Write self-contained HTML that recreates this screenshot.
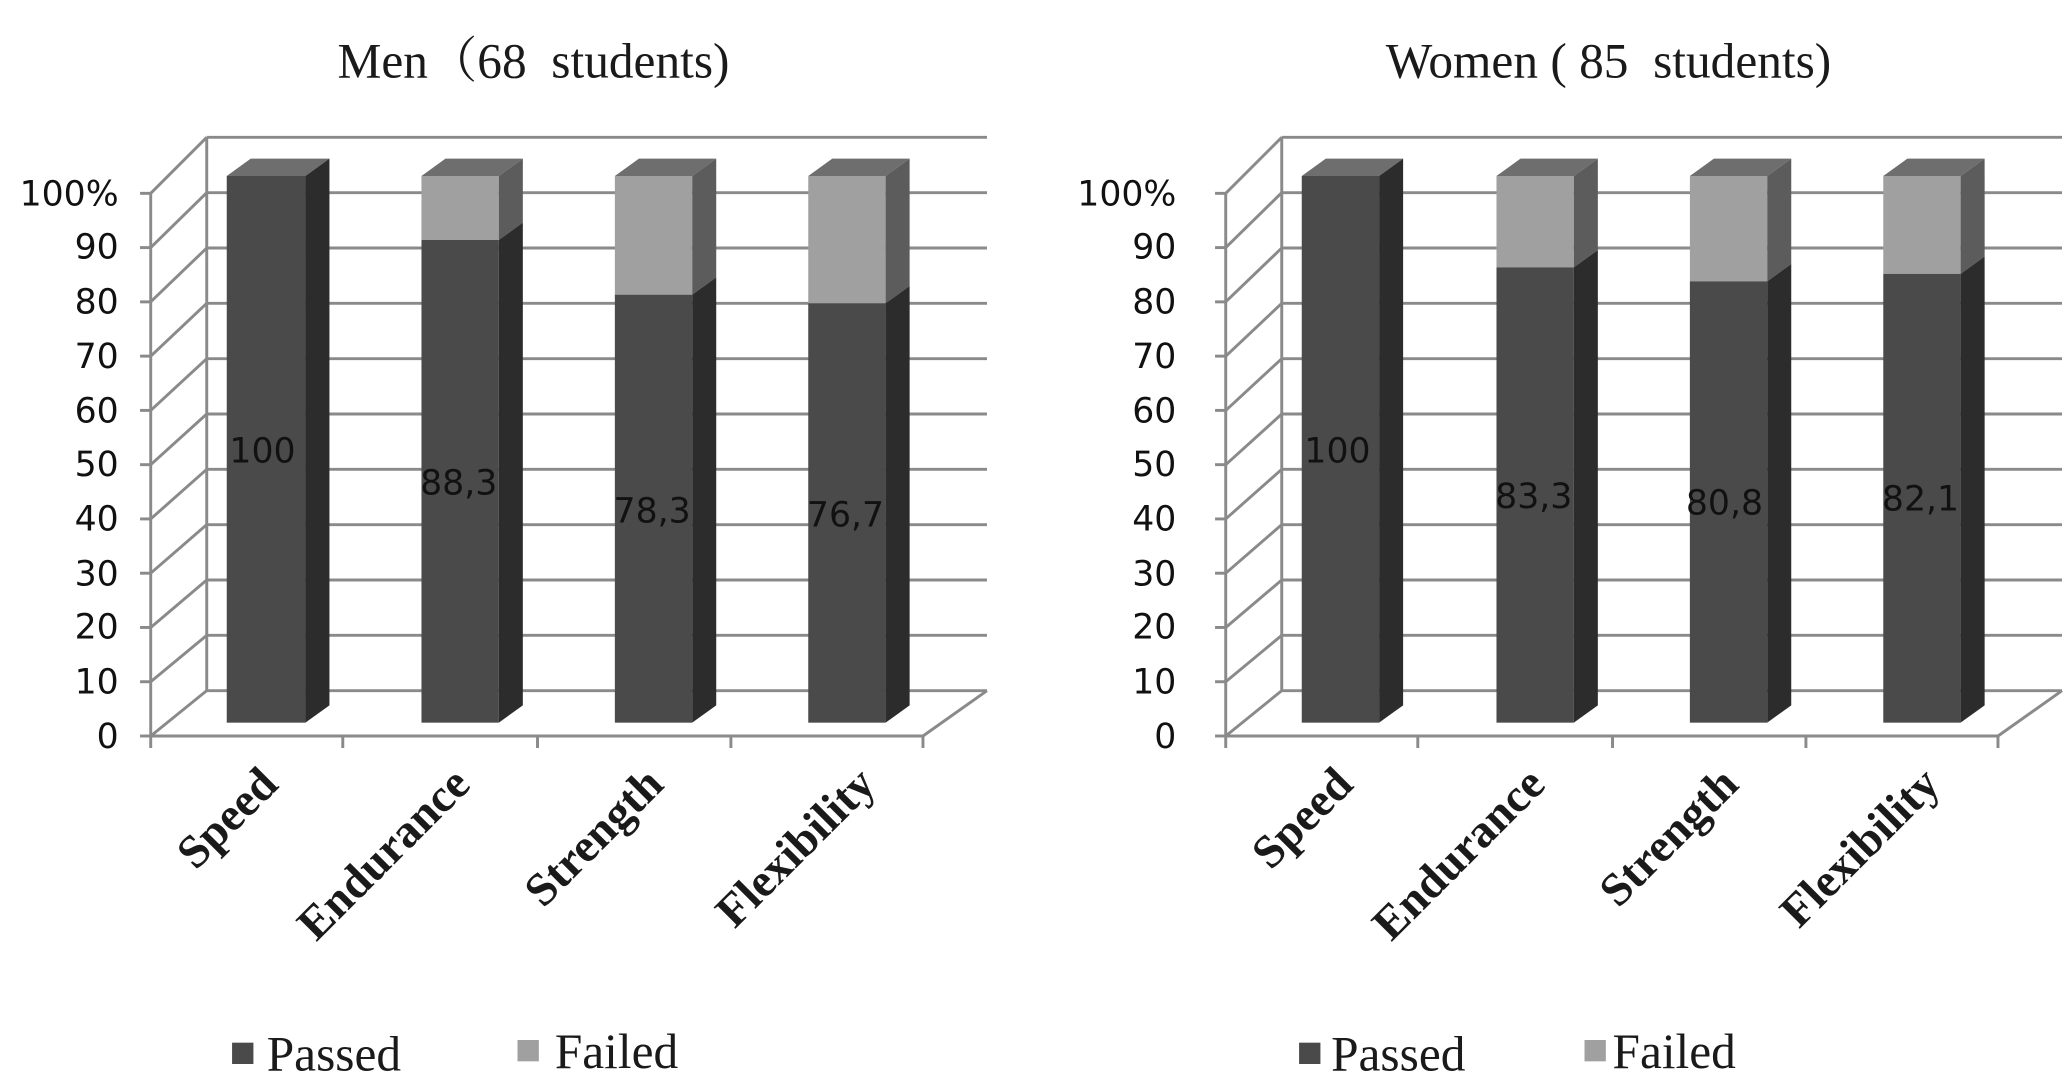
<!DOCTYPE html>
<html><head><meta charset="utf-8"><style>
html,body{margin:0;padding:0;background:#fff;width:2070px;height:1080px;overflow:hidden}
svg{display:block}
.t{font-family:"Liberation Serif","Noto Serif CJK SC",serif;fill:#1a1a1a}
.s{font-family:"DejaVu Sans","Liberation Sans",sans-serif;fill:#111}
</style></head><body>
<svg width="2070" height="1080" viewBox="0 0 1552 810" preserveAspectRatio="none" xmlns="http://www.w3.org/2000/svg">
<defs>
<g id="grid" stroke="#8a8a8a" stroke-width="2.2" fill="none">
<line x1="155" y1="103" x2="740" y2="103"/><line x1="155" y1="144.5" x2="740" y2="144.5"/><line x1="155" y1="186" x2="740" y2="186"/><line x1="155" y1="227.5" x2="740" y2="227.5"/><line x1="155" y1="269" x2="740" y2="269"/><line x1="155" y1="310.5" x2="740" y2="310.5"/><line x1="155" y1="352" x2="740" y2="352"/><line x1="155" y1="393.5" x2="740" y2="393.5"/><line x1="155" y1="435" x2="740" y2="435"/><line x1="155" y1="476.5" x2="740" y2="476.5"/><line x1="155" y1="518" x2="740" y2="518"/>
<line x1="113" y1="552" x2="155" y2="518"/><line x1="113" y1="511.3" x2="155" y2="476.5"/><line x1="113" y1="470.6" x2="155" y2="435"/><line x1="113" y1="429.9" x2="155" y2="393.5"/><line x1="113" y1="389.2" x2="155" y2="352"/><line x1="113" y1="348.5" x2="155" y2="310.5"/><line x1="113" y1="307.8" x2="155" y2="269"/><line x1="113" y1="267.1" x2="155" y2="227.5"/><line x1="113" y1="226.4" x2="155" y2="186"/><line x1="113" y1="185.7" x2="155" y2="144.5"/><line x1="113" y1="145" x2="155" y2="103"/>
<line x1="155" y1="103" x2="155" y2="518"/><line x1="113" y1="145" x2="113" y2="552"/>
<line x1="113" y1="552" x2="692" y2="552"/><line x1="692" y1="552" x2="740" y2="518"/>
<line x1="105" y1="552" x2="113" y2="552"/><line x1="105" y1="511.3" x2="113" y2="511.3"/><line x1="105" y1="470.6" x2="113" y2="470.6"/><line x1="105" y1="429.9" x2="113" y2="429.9"/><line x1="105" y1="389.2" x2="113" y2="389.2"/><line x1="105" y1="348.5" x2="113" y2="348.5"/><line x1="105" y1="307.8" x2="113" y2="307.8"/><line x1="105" y1="267.1" x2="113" y2="267.1"/><line x1="105" y1="226.4" x2="113" y2="226.4"/><line x1="105" y1="185.7" x2="113" y2="185.7"/><line x1="105" y1="145" x2="113" y2="145"/>
<line x1="113" y1="552" x2="113" y2="561"/><line x1="257" y1="552" x2="257" y2="561"/><line x1="403" y1="552" x2="403" y2="561"/><line x1="548" y1="552" x2="548" y2="561"/><line x1="692" y1="552" x2="692" y2="561"/>
</g>
</defs>

<!-- LEFT -->
<use href="#grid"/>
<g>
<polygon points="170,132 229,132 247,119 188,119" fill="#6e6e6e"/>
<rect x="170" y="132" width="59" height="410" fill="#4a4a4a"/>
<polygon points="229,132 247,119 247,529 229,542" fill="#2c2c2c"/>
<polygon points="316,132 374,132 392,119 334,119" fill="#6e6e6e"/>
<rect x="316" y="132" width="58" height="48" fill="#a0a0a0"/>
<rect x="316" y="180" width="58" height="362" fill="#4a4a4a"/>
<polygon points="374,132 392,119 392,167 374,180" fill="#5c5c5c"/>
<polygon points="374,180 392,167 392,529 374,542" fill="#2c2c2c"/>
<polygon points="461,132 519,132 537,119 479,119" fill="#6e6e6e"/>
<rect x="461" y="132" width="58" height="89" fill="#a0a0a0"/>
<rect x="461" y="221" width="58" height="321" fill="#4a4a4a"/>
<polygon points="519,132 537,119 537,208 519,221" fill="#5c5c5c"/>
<polygon points="519,221 537,208 537,529 519,542" fill="#2c2c2c"/>
<polygon points="606,132 664,132 682,119 624,119" fill="#6e6e6e"/>
<rect x="606" y="132" width="58" height="95.5" fill="#a0a0a0"/>
<rect x="606" y="227.5" width="58" height="314.5" fill="#4a4a4a"/>
<polygon points="664,132 682,119 682,214.5 664,227.5" fill="#5c5c5c"/>
<polygon points="664,227.5 682,214.5 682,529 664,542" fill="#2c2c2c"/>
</g>
<g class="s" font-size="26">
<text x="172" y="347">100</text>
<text x="315" y="371">88,3</text>
<text x="460" y="392">78,3</text>
<text x="605" y="395">76,7</text>
</g>
<g class="s" font-size="26" text-anchor="end">
<text x="89" y="561">0</text><text x="89" y="520">10</text><text x="89" y="479">20</text><text x="89" y="439">30</text><text x="89" y="398">40</text><text x="89" y="357">50</text><text x="89" y="317">60</text><text x="89" y="276">70</text><text x="89" y="235">80</text><text x="89" y="194">90</text><text x="89" y="154">100%</text>
</g>
<text class="t" x="400" y="58" font-size="37" text-anchor="middle">Men（68 &#160;students)</text>
<g class="t" font-size="35" font-weight="bold" text-anchor="end">
<text transform="translate(210,590) rotate(-45)">Speed</text>
<text transform="translate(354,590) rotate(-45)">Endurance</text>
<text transform="translate(499,590) rotate(-45)">Strength</text>
<text transform="translate(658,590) rotate(-45)">Flexibility</text>
</g>
<rect x="174" y="782" width="16" height="16" fill="#4a4a4a"/>
<text class="t" x="200" y="803" font-size="37">Passed</text>
<rect x="388" y="780" width="16" height="16" fill="#a0a0a0"/>
<text class="t" x="416" y="801" font-size="37">Failed</text>

<!-- RIGHT -->
<g transform="translate(806,0)">
<use href="#grid"/>
<polygon points="170,132 228,132 246,119 188,119" fill="#6e6e6e"/>
<rect x="170" y="132" width="58" height="410" fill="#4a4a4a"/>
<polygon points="228,132 246,119 246,529 228,542" fill="#2c2c2c"/>
<polygon points="316,132 374,132 392,119 334,119" fill="#6e6e6e"/>
<rect x="316" y="132" width="58" height="68.5" fill="#a0a0a0"/>
<rect x="316" y="200.5" width="58" height="341.5" fill="#4a4a4a"/>
<polygon points="374,132 392,119 392,187.5 374,200.5" fill="#5c5c5c"/>
<polygon points="374,200.5 392,187.5 392,529 374,542" fill="#2c2c2c"/>
<polygon points="461,132 519,132 537,119 479,119" fill="#6e6e6e"/>
<rect x="461" y="132" width="58" height="79" fill="#a0a0a0"/>
<rect x="461" y="211" width="58" height="331" fill="#4a4a4a"/>
<polygon points="519,132 537,119 537,198 519,211" fill="#5c5c5c"/>
<polygon points="519,211 537,198 537,529 519,542" fill="#2c2c2c"/>
<polygon points="606,132 664,132 682,119 624,119" fill="#6e6e6e"/>
<rect x="606" y="132" width="58" height="73.4" fill="#a0a0a0"/>
<rect x="606" y="205.4" width="58" height="336.6" fill="#4a4a4a"/>
<polygon points="664,132 682,119 682,192.4 664,205.4" fill="#5c5c5c"/>
<polygon points="664,205.4 682,192.4 682,529 664,542" fill="#2c2c2c"/>
<g class="s" font-size="26">
<text x="172" y="347">100</text>
<text x="315" y="381">83,3</text>
<text x="458" y="386">80,8</text>
<text x="605" y="383">82,1</text>
</g>
<g class="s" font-size="26" text-anchor="end">
<text x="76" y="561">0</text><text x="76" y="520">10</text><text x="76" y="479">20</text><text x="76" y="439">30</text><text x="76" y="398">40</text><text x="76" y="357">50</text><text x="76" y="317">60</text><text x="76" y="276">70</text><text x="76" y="235">80</text><text x="76" y="194">90</text><text x="76" y="154">100%</text>
</g>
<text class="t" x="400" y="58" font-size="37" text-anchor="middle">Women ( 85 &#160;students)</text>
<g class="t" font-size="35" font-weight="bold" text-anchor="end">
<text transform="translate(210,590) rotate(-45)">Speed</text>
<text transform="translate(354,590) rotate(-45)">Endurance</text>
<text transform="translate(499,590) rotate(-45)">Strength</text>
<text transform="translate(650,590) rotate(-45)">Flexibility</text>
</g>
<rect x="168" y="782" width="16" height="16" fill="#4a4a4a"/>
<text class="t" x="192" y="803" font-size="37">Passed</text>
<rect x="382" y="780" width="16" height="16" fill="#a0a0a0"/>
<text class="t" x="403" y="801" font-size="37">Failed</text>
</g>
</svg>
</body></html>
